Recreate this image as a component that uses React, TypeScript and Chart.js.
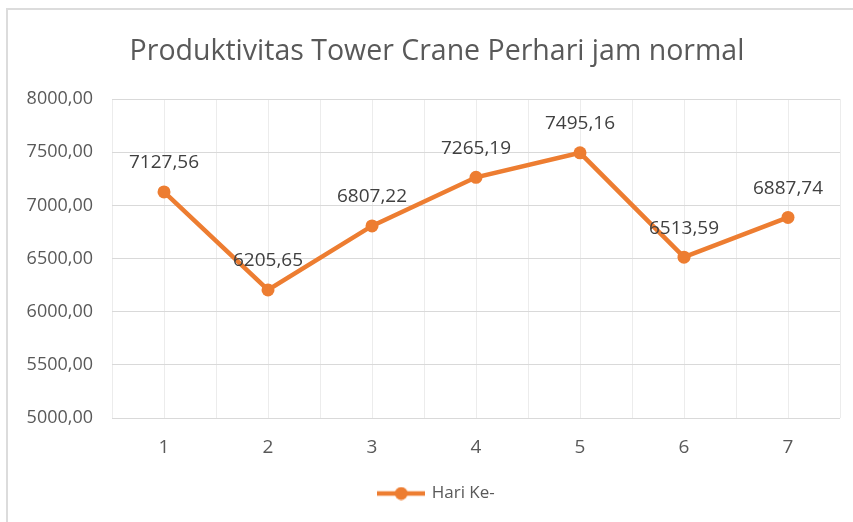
import React, { useEffect, useRef } from 'react';
import { Chart, registerables } from 'chart.js';

Chart.register(...registerables);

const TITLE = 'Produktivitas Tower Crane Perhari jam normal';
const SERIES_NAME = 'Hari Ke-';
const categories = ['1', '2', '3', '4', '5', '6', '7'];
const values = [7127.56, 6205.65, 6807.22, 7265.19, 7495.16, 6513.59, 6887.74];
const yMin = 5000;
const yMax = 8000;
const yStep = 500;

const ORANGE = '#ED7D31';
const FONT = '"Open Sans", "Noto Sans", sans-serif';

const fmt = (v: number) => v.toFixed(2).replace('.', ',');

const dataLabels = {
  id: 'dataLabels',
  afterDatasetsDraw(chart: any) {
    const ctx = chart.ctx;
    const meta = chart.getDatasetMeta(0);
    ctx.save();
    ctx.font = `19px ${FONT}`;
    ctx.fillStyle = '#404040';
    ctx.textAlign = 'center';
    ctx.textBaseline = 'middle';
    meta.data.forEach((pt: any, i: number) => {
      ctx.fillText(fmt(values[i]), pt.x, pt.y - 29);
    });
    ctx.restore();
  },
};

export default function App() {
  const ref = useRef<HTMLCanvasElement | null>(null);

  useEffect(() => {
    const canvas = ref.current;
    if (!canvas) return;

    const mk = document.createElement('canvas');
    mk.width = 48;
    mk.height = 14;
    const c = mk.getContext('2d')!;
    c.strokeStyle = ORANGE;
    c.lineWidth = 4.5;
    c.beginPath();
    c.moveTo(0, 7);
    c.lineTo(48, 7);
    c.stroke();
    c.fillStyle = ORANGE;
    c.beginPath();
    c.arc(24, 7, 6.5, 0, Math.PI * 2);
    c.fill();

    const chart = new Chart(canvas, {
      type: 'line',
      data: {
        datasets: [
          {
            label: SERIES_NAME,
            data: values.map((v, i) => ({ x: i + 1, y: v })),
            borderColor: ORANGE,
            backgroundColor: ORANGE,
            borderWidth: 4.5,
            pointRadius: 6.5,
            pointHoverRadius: 6.5,
            pointBackgroundColor: ORANGE,
            pointBorderWidth: 0,
            tension: 0,
            yAxisID: 'y',
          },
        ],
      },
      options: {
        responsive: false,
        animation: false,
        events: [],
        layout: { padding: { left: 0, right: 0, top: 0, bottom: 10 } },
        scales: {
          x: {
            type: 'linear',
            min: 0.5,
            max: 7.5,
            border: { display: false },
            grid: { color: '#ececec', lineWidth: 1, drawTicks: false },
            ticks: {
              stepSize: 0.5,
              autoSkip: false,
              maxRotation: 0,
              padding: 18,
              color: '#595959',
              font: { family: FONT, size: 19 },
              callback: (v: any) => {
                const n = Number(v);
                return Number.isInteger(n) ? categories[n - 1] ?? '' : '';
              },
            },
            afterFit: (s: any) => {
              s.height = 57;
              s.paddingLeft = 0;
              s.paddingRight = 0;
            },
          },
          y: {
            min: yMin,
            max: yMax,
            border: { display: false },
            grid: { color: '#d9d9d9', lineWidth: 1, drawTicks: false },
            ticks: {
              stepSize: yStep,
              padding: 19,
              color: '#595959',
              font: { family: FONT, size: 18 },
              callback: (v: any) => fmt(Number(v)),
            },
            afterFit: (s: any) => {
              s.width = 112;
            },
          },
          yPad: {
            position: 'right',
            min: 0,
            max: 1,
            border: { display: false },
            grid: { display: false, drawTicks: false },
            ticks: { display: false },
            afterFit: (s: any) => {
              s.width = 34;
            },
          },
        },
        plugins: {
          title: {
            display: true,
            text: TITLE,
            color: '#595959',
            font: { family: FONT, size: 28.5, weight: 'normal' },
            padding: { top: 35, bottom: 30 },
          },
          legend: {
            display: true,
            position: 'bottom',
            labels: {
              usePointStyle: true,
              pointStyleWidth: 44,
              color: '#595959',
              font: { family: FONT, size: 17 },
              generateLabels: () => [
                {
                  text: SERIES_NAME,
                  pointStyle: mk as any,
                  fillStyle: ORANGE,
                  strokeStyle: ORANGE,
                  lineWidth: 0,
                  hidden: false,
                  datasetIndex: 0,
                  fontColor: '#595959',
                },
              ],
            },
          },
          tooltip: { enabled: false },
        },
      },
      plugins: [dataLabels],
    });

    return () => chart.destroy();
  }, []);

  return (
    <div style={{ position: 'fixed', left: 0, top: 0, width: 853, height: 522, background: '#fff', overflow: 'hidden' }}>
      <div
        style={{
          position: 'absolute',
          left: 6,
          top: 8,
          width: 900,
          height: 600,
          borderTop: '2px solid #dcdcdc',
          borderLeft: '2px solid #dcdcdc',
          boxSizing: 'border-box',
        }}
      />
      <canvas ref={ref} width={874} height={522} style={{ position: 'absolute', left: 0, top: 0, width: 874, height: 522 }} />
    </div>
  );
}
